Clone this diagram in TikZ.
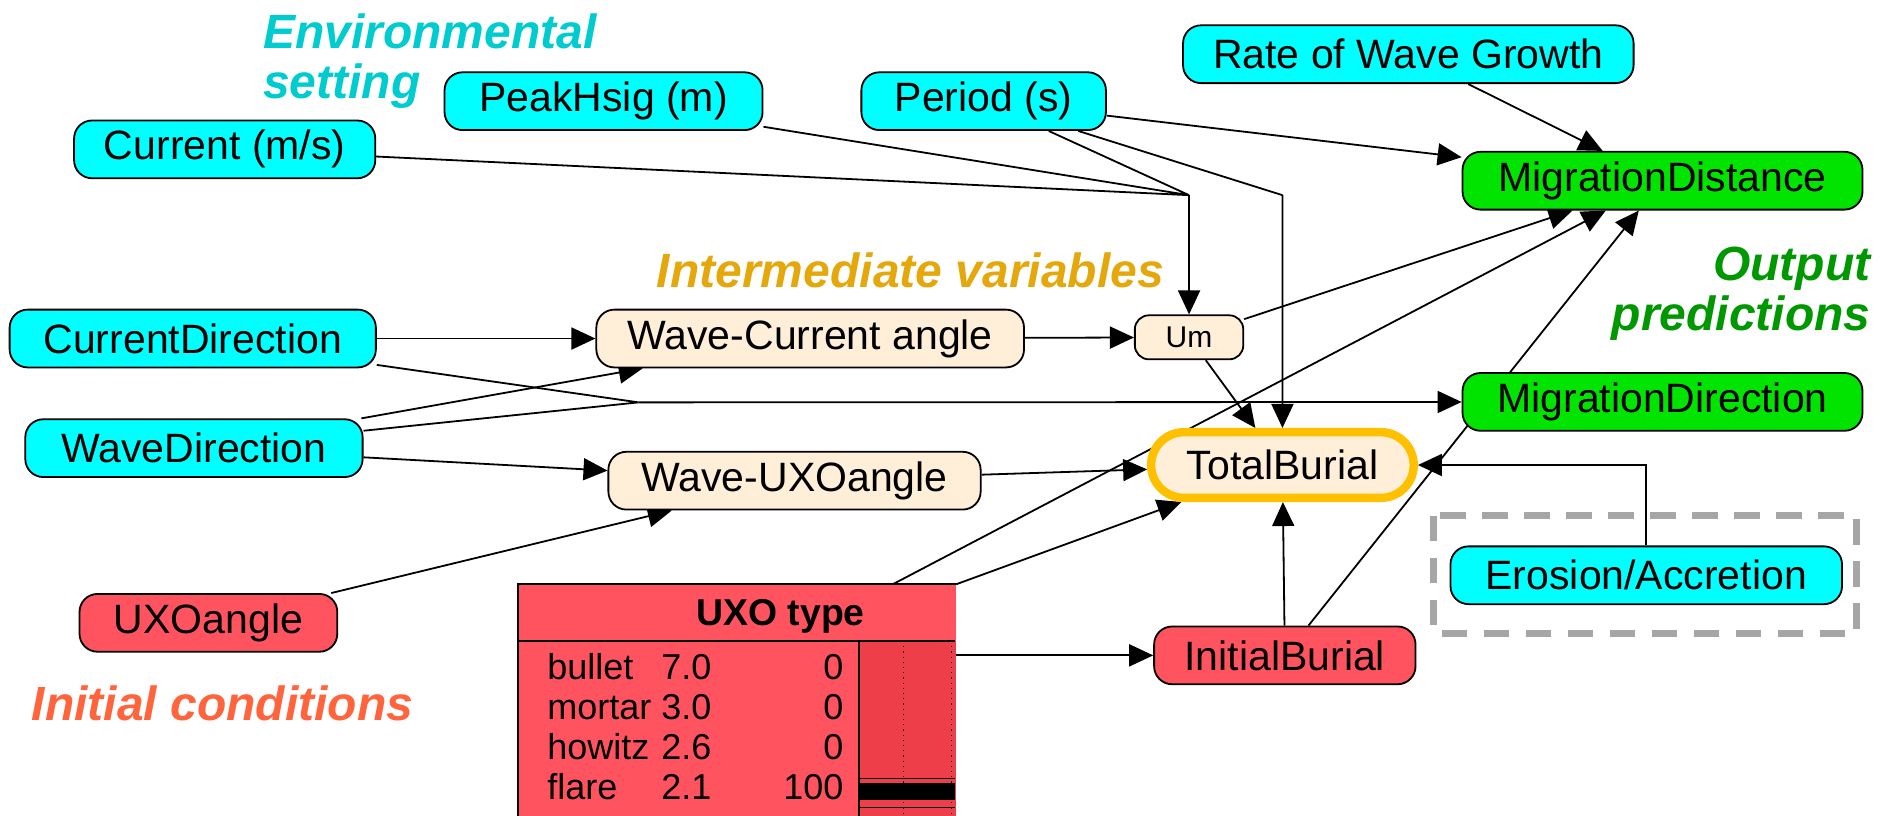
\documentclass[tikz,border=0pt]{standalone}
\usepackage{fontspec}
\setmainfont{Liberation Sans}
\usetikzlibrary{arrows.meta,shapes.misc,calc,backgrounds}

\definecolor{netcyan}{RGB}{0,255,255}
\definecolor{netgreen}{RGB}{0,228,0}
\definecolor{netred}{RGB}{255,84,96}
\definecolor{netbarred}{RGB}{238,62,74}
\definecolor{netbeige}{RGB}{255,239,217}
\definecolor{burialorange}{RGB}{255,192,0}
\definecolor{envcolor}{RGB}{0,204,208}
\definecolor{midcolor}{RGB}{228,168,12}
\definecolor{outcolor}{RGB}{0,152,0}
\definecolor{initcolor}{RGB}{255,100,60}
\definecolor{boxgray}{RGB}{166,166,166}

\begin{document}
\begin{tikzpicture}[x=0.6024pt, y=-0.6024pt,
    netnode/.style={draw=black, line width=0.9pt, rectangle, rounded corners=9pt,
      minimum height=28.9pt, inner sep=0pt, font=\fontsize{20.5}{22}\selectfont},
    nodewd/.style={minimum width=#1*0.6024pt},
    link/.style={draw=black, line width=0.9pt, -{Triangle[length=12pt,width=11pt]}},
    note/.style={inner sep=0pt, font=\fontsize{24}{24.8}\selectfont\bfseries\itshape},
    groupbox/.style={draw=boxgray, line width=3.6pt, dash pattern=on 12.6pt off 8.4pt}]
      \useasboundingbox (0,0) rectangle (1568,677);
      \begin{scope}[every node/.style={netnode, fill=netcyan}]
        \node[nodewd=250] (current) at (186.5,124) {Current (m/s)};
        \node[nodewd=264] (peakhsig) at (501,84) {PeakHsig (m)};
        \node[nodewd=203] (period) at (816.5,84) {Period (s)};
        \node[nodewd=374] (rate) at (1169,45) {Rate of Wave Growth};
        \node[nodewd=304] (curdir) at (160,281) {CurrentDirection};
        \node[nodewd=280] (wavedir) at (161,372) {WaveDirection};
        \node[nodewd=325] (erosion) at (1366.5,477.5) {Erosion/Accretion};
      \end{scope}
      \begin{scope}[every node/.style={netnode, fill=netgreen}]
        \node[nodewd=332] (migdist) at (1380,150) {MigrationDistance};
        \node[nodewd=332] (migdir) at (1380,333.6) {MigrationDirection};
      \end{scope}
      \begin{scope}[every node/.style={netnode, fill=netbeige}]
        \node[nodewd=355] (wavecur) at (672.5,281) {Wave-Current angle};
        \node[nodewd=309] (waveuxo) at (659.5,399) {Wave-UXOangle};
        \node[nodewd=90, minimum height=22pt, rounded corners=7pt,
          font=\fontsize{15}{16}\selectfont] (um) at (987,280) {Um};
      \end{scope}
      \begin{scope}[every node/.style={netnode, fill=netred}]
        \node[nodewd=214] (uxoangle) at (173,517) {UXOangle};
        \node[nodewd=217] (initburial) at (1066.5,544) {InitialBurial};
      \end{scope}
      \node[rounded rectangle, draw=burialorange, line width=4.2pt, fill=netbeige,
        minimum width=218*0.6024pt, minimum height=54.5*0.6024pt, inner sep=0pt,
        font=\fontsize{20.5}{22}\selectfont] (total) at (1064.5,386) {TotalBurial};

      \node[fill=netred, minimum width=363*0.6024pt, minimum height=200*0.6024pt,
        inner sep=0pt, anchor=north west] (uxo) at (430,485) {};
      \fill[netbarred] (713,532) rectangle (uxo.south east);
      \draw[line width=0.6pt, dotted] (750,532) -- (750,685) (790,532) -- (790,685);
      \fill[black] (713,650) rectangle (793,664);
      \draw[line width=0.6pt] (713,646) -- (793,646) (713,670) -- (793,670);
      \draw[line width=0.9pt] (uxo.north east) -- (uxo.north west) -- (uxo.south west);
      \draw[line width=0.9pt] (430,532) -- (793,532) (713,532) -- (713,685);
      \node[inner sep=0pt, anchor=base, font=\fontsize{18.7}{20}\selectfont\bfseries]
        (uxotitle) at (648,519) {UXO type};
      \node[inner sep=0pt, anchor=base west, font=\fontsize{18}{20.06}\selectfont]
        (uxostates) at (454,564) {\begin{tabular}[t]{@{}l@{\hspace{5pt}}l@{\hspace{36pt}}r@{}}
          bullet & 7.0 & 0\\
          mortar & 3.0 & 0\\
          howitz & 2.6 & 0\\
          flare & 2.1 & 100
        \end{tabular}};

      \node[note, text=envcolor, align=left, anchor=north west] (envnote) at (218,11) {Environmental\\setting};
      \node[note, text=midcolor, anchor=base west] (midnote) at (545,239) {Intermediate variables};
      \node[note, text=outcolor, align=right, anchor=north east] (outnote) at (1553,205) {Output\\predictions};
      \node[note, text=initcolor, anchor=base west] (initnote) at (26,598) {Initial conditions};

      \begin{scope}[on background layer]
        \draw[groupbox] (1190,428) rectangle (1541,526);
        \coordinate (jum) at (987,162);
        \coordinate (jtb) at (1064.5,162);
        \coordinate (jmd) at (530,334);
        \draw[line width=0.9pt] (current) -- (jum) (peakhsig) -- (jum) (period) -- (jum)
          (period) -- (jtb) (curdir) -- (jmd) (wavedir) -- (jmd);
        \draw[link] (erosion) |- (total);
        \begin{scope}[every edge/.style={link}]
          \path (jum) edge (um);
          \path (jtb) edge (total);
          \path (jmd) edge (migdir);
          \path (rate) edge (migdist);
          \path (period) edge (migdist);
          \path (um) edge (migdist);
          \path ($(uxo.north west)+(311,0)$) edge (migdist);
          \path (initburial) edge (migdist);
          \path (curdir) edge (wavecur);
          \path (wavedir) edge (wavecur);
          \path (wavedir) edge (waveuxo);
          \path (uxoangle) edge (waveuxo);
          \path (wavecur) edge (um);
          \path (waveuxo) edge (total);
          \path (um) edge (total);
          \path (uxo.north east) edge (total);
          \path (uxo.east |- initburial) edge (initburial);
          \path (initburial) edge (total);
        \end{scope}
      \end{scope}
    \end{tikzpicture}
\end{document}
